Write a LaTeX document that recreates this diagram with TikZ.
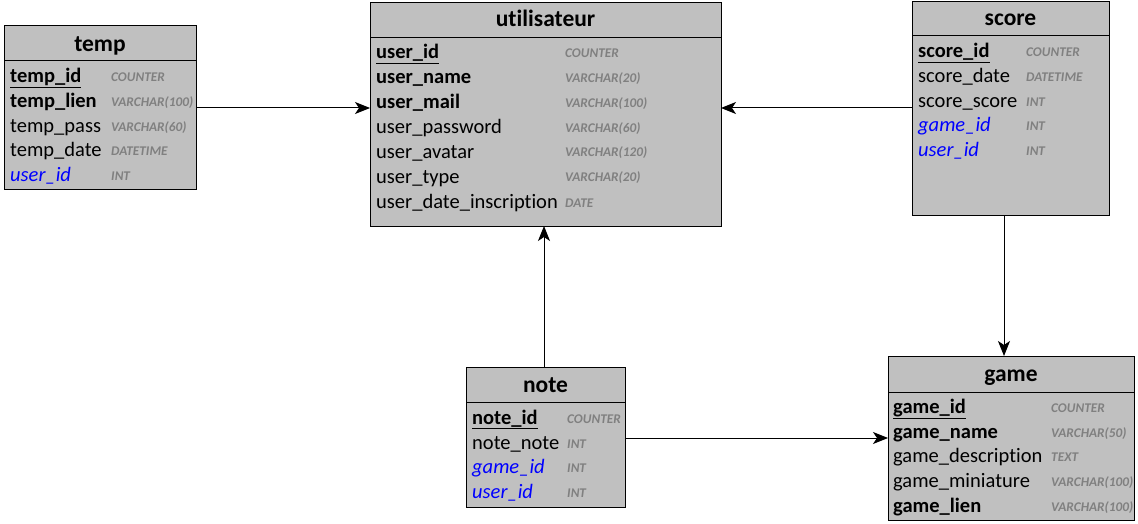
\documentclass[tikz,border=0pt]{standalone}
\usepackage{fontspec}
\setmainfont[Ligatures={NoCommon}]{Carlito}
\usetikzlibrary{arrows.meta,calc}
\definecolor{boxfill}{RGB}{192,192,192}
\definecolor{typegray}{RGB}{128,128,128}
\definecolor{fkblue}{RGB}{0,0,255}
\tikzset{
  tbl/.style={draw=black, line width=1pt, fill=boxfill, rectangle, inner sep=0pt, outer sep=0pt, anchor=north west},
  ttl/.style={font=\bfseries\fontsize{23.5}{23.5}\selectfont, anchor=base, inner sep=0pt},
  fld/.style={font=\fontsize{20.5}{20.5}\selectfont, anchor=base west, inner sep=0pt, yshift=-1pt},
  pk/.style={fld, font=\bfseries\fontsize{20.5}{20.5}\selectfont},
  fk/.style={fld, font=\itshape\fontsize{20.5}{20.5}\selectfont, text=fkblue},
  typ/.style={font=\bfseries\itshape\fontsize{13.3}{13.3}\selectfont, text=typegray, anchor=base west, inner sep=0pt, yshift=-1pt},
  rel/.style={line width=1pt, -{Stealth[length=15pt,width=12pt,inset=4pt]}},
}
% #1 name, #2 x1, #3 y1, #4 x2, #5 y2, #6 divider y, #7 title, #8 title baseline
\newcommand\dbtable[8]{%
  \node[tbl, minimum width={#4-#2}, minimum height={#5-#3}] (#1) at (#2,#3) {};
  \draw[line width=1pt] (#1.west |- 0,#6) -- (#1.east |- 0,#6);
  \node[ttl] (#1-title) at ({(#2+#4)/2},#8) {#7};
}
\begin{document}
\begin{tikzpicture}[x=1pt,y=-1pt]
\useasboundingbox (0,0) rectangle (1138,524);

% temp
\dbtable{temp}{4}{26}{196}{189}{61}{temp}{52}
\node[pk] (temp-f1) at (10,82) {\underline{temp\_id}};
\node[typ] (temp-t1) at (111,81) {COUNTER};
\node[pk] (temp-f2) at (10,107) {temp\_lien};
\node[typ] (temp-t2) at (111,106) {VARCHAR(100)};
\node[fld] (temp-f3) at (10,132) {temp\_pass};
\node[typ] (temp-t3) at (111,131) {VARCHAR(60)};
\node[fld] (temp-f4) at (10,156) {temp\_date};
\node[typ] (temp-t4) at (111,155) {DATETIME};
\node[fk] (temp-f5) at (10,181) {user\_id};
\node[typ] (temp-t5) at (111,180) {INT};

% utilisateur
\dbtable{user}{370}{3}{721}{226}{38}{utilisateur}{27}
\node[pk] (user-f1) at (376,58) {\underline{user\_id}};
\node[typ] (user-t1) at (565,57) {COUNTER};
\node[pk] (user-f2) at (376,83) {user\_name};
\node[typ] (user-t2) at (565,82) {VARCHAR(20)};
\node[pk] (user-f3) at (376,108) {user\_mail};
\node[typ] (user-t3) at (565,107) {VARCHAR(100)};
\node[fld] (user-f4) at (376,133) {user\_password};
\node[typ] (user-t4) at (565,132) {VARCHAR(60)};
\node[fld] (user-f5) at (376,157) {user\_avatar};
\node[typ] (user-t5) at (565,156) {VARCHAR(120)};
\node[fld] (user-f6) at (376,182) {user\_type};
\node[typ] (user-t6) at (565,181) {VARCHAR(20)};
\node[fld] (user-f7) at (376,207) {user\_date\_inscription};
\node[typ] (user-t7) at (565,206) {DATE};

% score
\dbtable{score}{912}{2}{1109}{215}{36}{score}{26}
\node[pk] (score-f1) at (918,57) {\underline{score\_id}};
\node[typ] (score-t1) at (1026,56) {COUNTER};
\node[fld] (score-f2) at (918,82) {score\_date};
\node[typ] (score-t2) at (1026,81) {DATETIME};
\node[fld] (score-f3) at (918,107) {score\_score};
\node[typ] (score-t3) at (1026,106) {INT};
\node[fk] (score-f4) at (918,131) {game\_id};
\node[typ] (score-t4) at (1026,130) {INT};
\node[fk] (score-f5) at (918,156) {user\_id};
\node[typ] (score-t5) at (1026,155) {INT};

% note
\dbtable{note}{466}{367}{625}{507}{402}{note}{392}
\node[pk] (note-f1) at (472,423) {\underline{note\_id}};
\node[typ] (note-t1) at (567,422) {COUNTER};
\node[fld] (note-f2) at (472,448) {note\_note};
\node[typ] (note-t2) at (567,447) {INT};
\node[fk] (note-f3) at (472,472) {game\_id};
\node[typ] (note-t3) at (567,471) {INT};
\node[fk] (note-f4) at (472,497) {user\_id};
\node[typ] (note-t4) at (567,496) {INT};

% game
\dbtable{game}{888}{356}{1134}{520}{392}{game}{381}
\node[pk] (game-f1) at (893,412) {\underline{game\_id}};
\node[typ] (game-t1) at (1051,411) {COUNTER};
\node[pk] (game-f2) at (893,437) {game\_name};
\node[typ] (game-t2) at (1051,436) {VARCHAR(50)};
\node[fld] (game-f3) at (893,461) {game\_description};
\node[typ] (game-t3) at (1051,460) {TEXT};
\node[fld] (game-f4) at (893,486) {game\_miniature};
\node[typ] (game-t4) at (1051,485) {VARCHAR(100)};
\node[pk] (game-f5) at (893,511) {game\_lien};
\node[typ] (game-t5) at (1051,510) {VARCHAR(100)};

% relations
\draw[rel] (temp.east |- 0,108) -- (user.west |- 0,108);
\draw[rel] (score.west |- 0,108) -- (user.east |- 0,108);
\draw[rel] (note.north -| 544,0) -- (user.south -| 544,0);
\draw[rel] (score.south -| 1004,0) -- (game.north -| 1004,0);
\draw[rel] (note.east |- 0,438) -- (game.west |- 0,438);
\end{tikzpicture}
\end{document}
